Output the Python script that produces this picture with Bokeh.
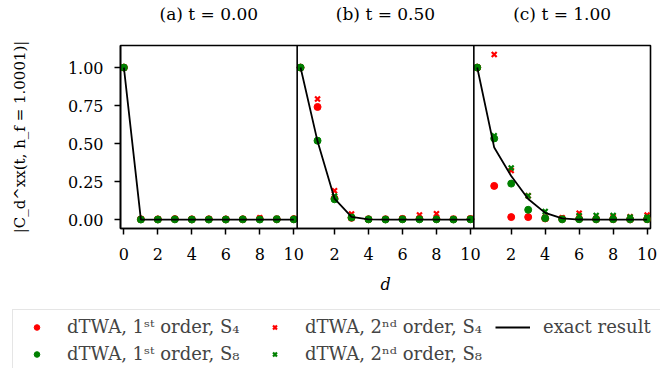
from bokeh.plotting import figure
from bokeh.layouts import column
from bokeh.models import (Range1d, LinearAxis, FixedTicker, NumeralTickFormatter,
                          Span, Legend, LegendItem)
from bokeh.embed import file_html
from bokeh.resources import INLINE

# ---------------- data ----------------
d = [0, 1, 2, 3, 4, 5, 6, 7, 8, 9, 10]

panel_titles = ["(a) t = 0.00", "(b) t = 0.50", "(c) t = 1.00"]

# panel (a): t = 0.00
exact_a = [1.0, 0.0, 0.0, 0.0, 0.0, 0.0, 0.0, 0.0, 0.0, 0.0, 0.0]
s4_1st_a = [1.0, 0.003, 0.002, 0.004, 0.002, 0.003, 0.002, 0.003, 0.004, 0.003, 0.004]
s4_2nd_a = [1.0, 0.003, 0.003, 0.004, 0.004, 0.003, 0.003, 0.004, 0.012, 0.004, 0.004]
s8_1st_a = [1.0, 0.001, 0.001, 0.002, 0.001, 0.001, 0.001, 0.002, 0.001, 0.002, 0.002]
s8_2nd_a = [1.0, 0.002, 0.002, 0.002, 0.002, 0.002, 0.002, 0.002, 0.003, 0.007, 0.002]

# panel (b): t = 0.50
exact_b = [1.0, 0.515, 0.138, 0.018, 0.002, 0.0, 0.0, 0.0, 0.0, 0.0, 0.0]
s4_1st_b = [1.0, 0.741, 0.14, 0.012, 0.003, 0.003, 0.005, 0.006, 0.004, 0.003, 0.004]
s4_2nd_b = [1.0, 0.793, 0.19, 0.037, 0.004, 0.004, 0.008, 0.031, 0.039, 0.006, 0.008]
s8_1st_b = [1.0, 0.519, 0.134, 0.014, 0.002, 0.001, 0.002, 0.002, 0.002, 0.001, 0.002]
s8_2nd_b = [1.0, 0.52, 0.155, 0.02, 0.003, 0.002, 0.004, 0.005, 0.004, 0.003, 0.004]

# panel (c): t = 1.00
exact_c = [1.0, 0.474, 0.287, 0.136, 0.045, 0.008, 0.001, 0.0, 0.0, 0.0, 0.0]
s4_1st_c = [1.0, 0.222, 0.017, 0.017, 0.008, 0.004, 0.005, 0.003, 0.003, 0.002, 0.003]
s4_2nd_c = [1.0, 1.086, 0.323, 0.157, 0.017, 0.013, 0.043, 0.01, 0.02, 0.02, 0.03]
s8_1st_c = [1.0, 0.534, 0.237, 0.065, 0.01, 0.002, 0.003, 0.002, 0.003, 0.002, 0.003]
s8_2nd_c = [1.0, 0.552, 0.34, 0.157, 0.054, 0.006, 0.026, 0.028, 0.028, 0.017, 0.017]

x_ticks_first = [0, 2, 4, 6, 8, 10]
x_ticks_rest = [2, 4, 6, 8, 10]
y_ticks = [0.0, 0.25, 0.5, 0.75, 1.0]

series_labels = ["dTWA, 1ˢᵗ order, S₄", "dTWA, 1ˢᵗ order, S₈",
                 "dTWA, 2ⁿᵈ order, S₄", "dTWA, 2ⁿᵈ order, S₈", "exact result"]
y_label = "|C_d^xx(t, h_f = 1.0001)|"
x_label = "d"

# ---------------- styling ----------------
FONT = "DejaVu Serif"
FS = "16px"
RED = "#ff0000"
GREEN = "#008000"
X0, X1 = -0.2, 10.2
W = X1 - X0
NAN = float("nan")

panels = [
    (exact_a, s4_1st_a, s4_2nd_a, s8_1st_a, s8_2nd_a),
    (exact_b, s4_1st_b, s4_2nd_b, s8_1st_b, s8_2nd_b),
    (exact_c, s4_1st_c, s4_2nd_c, s8_1st_c, s8_2nd_c),
]
range_names = ["default", "b", "c"]

p = figure(width=660, height=308, output_backend="svg", toolbar_location=None,
           x_range=Range1d(X0, X0 + 3 * W), y_range=Range1d(-0.058, 1.145),
           x_axis_location=None, y_axis_location=None,
           min_border_left=120, min_border_right=10, min_border_top=42,
           min_border_bottom=80)
p.frame_align = False
p.xgrid.grid_line_color = None
p.ygrid.grid_line_color = None
p.outline_line_color = "black"
p.outline_line_width = 1.6
p.outline_line_alpha = 1.0
p.background_fill_color = "white"
p.border_fill_color = "white"

p.extra_x_ranges = {"b": Range1d(X0 - W, X0 + 2 * W),
                    "c": Range1d(X0 - 2 * W, X0 + W)}


def style_axis(ax, fs=FS):
    ax.major_label_text_font = FONT
    ax.major_label_text_font_size = fs
    ax.major_label_text_color = "black"
    ax.axis_label_text_font = FONT
    ax.axis_label_text_font_size = fs
    ax.axis_label_text_color = "black"
    ax.axis_label_text_font_style = "normal"
    ax.axis_line_color = "black"
    ax.axis_line_width = 1.6
    ax.major_tick_line_color = "black"
    ax.major_tick_line_width = 1.5
    ax.major_tick_out = 6
    ax.major_tick_in = 0
    ax.minor_tick_out = 0
    ax.minor_tick_in = 0


# bottom axis: ticks of the three panels on the shared scale
tick_pos = (list(x_ticks_first) + [W + t for t in x_ticks_rest]
            + [2 * W + t for t in x_ticks_rest])
tick_lbl = ([str(t) for t in x_ticks_first] + [str(t) for t in x_ticks_rest]
            + [str(t) for t in x_ticks_rest])
xaxis = LinearAxis(ticker=FixedTicker(ticks=tick_pos, minor_ticks=[]),
                   major_label_overrides=dict(zip(tick_pos, tick_lbl)),
                   axis_label=x_label)
style_axis(xaxis)
xaxis.major_label_standoff = 13
xaxis.axis_label_standoff = 12
xaxis.axis_label_text_font_style = "italic"
p.add_layout(xaxis, "below")

# left axis
yaxis = LinearAxis(ticker=FixedTicker(ticks=y_ticks, minor_ticks=[]),
                   formatter=NumeralTickFormatter(format="0.00"),
                   axis_label=y_label)
style_axis(yaxis)
yaxis.axis_label_text_font_size = "15px"
yaxis.major_label_standoff = 11
yaxis.axis_label_standoff = 36
p.add_layout(yaxis, "left")

# panel titles on an axis above
centers = [X0 + W * (i + 0.5) for i in range(3)]
taxis = LinearAxis(ticker=FixedTicker(ticks=centers, minor_ticks=[]),
                   major_label_overrides=dict(zip(centers, panel_titles)))
style_axis(taxis, "17px")
taxis.axis_line_color = None
taxis.major_tick_line_color = None
taxis.major_tick_out = 0
taxis.major_label_standoff = 22
p.add_layout(taxis, "above")

# separators between panels
for i in (1, 2):
    p.add_layout(Span(location=X0 + i * W, dimension="height",
                      line_color="black", line_width=1.6))

for (ex, s41, s42, s81, s82), rn in zip(panels, range_names):
    p.scatter(d, s41, marker="circle", size=7, fill_color=RED, line_color=RED,
              x_range_name=rn)
    p.scatter(d, s42, marker="x", size=7, line_color=RED, line_width=2.2,
              x_range_name=rn)
    p.scatter(d, s81, marker="circle", size=7, fill_color=GREEN,
              line_color=GREEN, x_range_name=rn)
    p.scatter(d, s82, marker="x", size=7, line_color=GREEN, line_width=2.2,
              x_range_name=rn)
    p.line(d, ex, line_color="black", line_width=1.8, x_range_name=rn)

# ---------------- legend strip ----------------
q = figure(width=660, height=60, output_backend="svg", toolbar_location=None,
           x_range=Range1d(0, 1), y_range=Range1d(0, 1),
           x_axis_location=None, y_axis_location=None, min_border=0)
q.frame_align = False
q.xgrid.grid_line_color = None
q.ygrid.grid_line_color = None
q.outline_line_color = None
q.background_fill_color = "white"
q.border_fill_color = "white"

g1 = q.scatter([NAN], [NAN], marker="circle", size=7, fill_color=RED, line_color=RED)
g2 = q.scatter([NAN], [NAN], marker="circle", size=7, fill_color=GREEN,
               line_color=GREEN)
g3 = q.scatter([NAN], [NAN], marker="x", size=7, line_color=RED, line_width=2.2)
g4 = q.scatter([NAN], [NAN], marker="x", size=7, line_color=GREEN, line_width=2.2)
g5 = q.line([NAN, NAN], [NAN, NAN], line_color="black", line_width=2.2)

items = [LegendItem(label=lab, renderers=[r])
         for lab, r in zip(series_labels, [g1, g2, g3, g4, g5])]
legend = Legend(items=items, nrows=2, orientation="vertical",
                location=(12, -3), margin=0, padding=6, spacing=6,
                glyph_width=35, glyph_height=14, label_standoff=13,
                label_height=21, label_width=184,
                label_text_font=FONT, label_text_font_size="18px",
                border_line_color="#cccccc", border_line_width=1.2,
                background_fill_color="white", background_fill_alpha=1.0)
q.add_layout(legend, "center")

open("out.html", "w").write(file_html(column(p, q, spacing=0), INLINE))
